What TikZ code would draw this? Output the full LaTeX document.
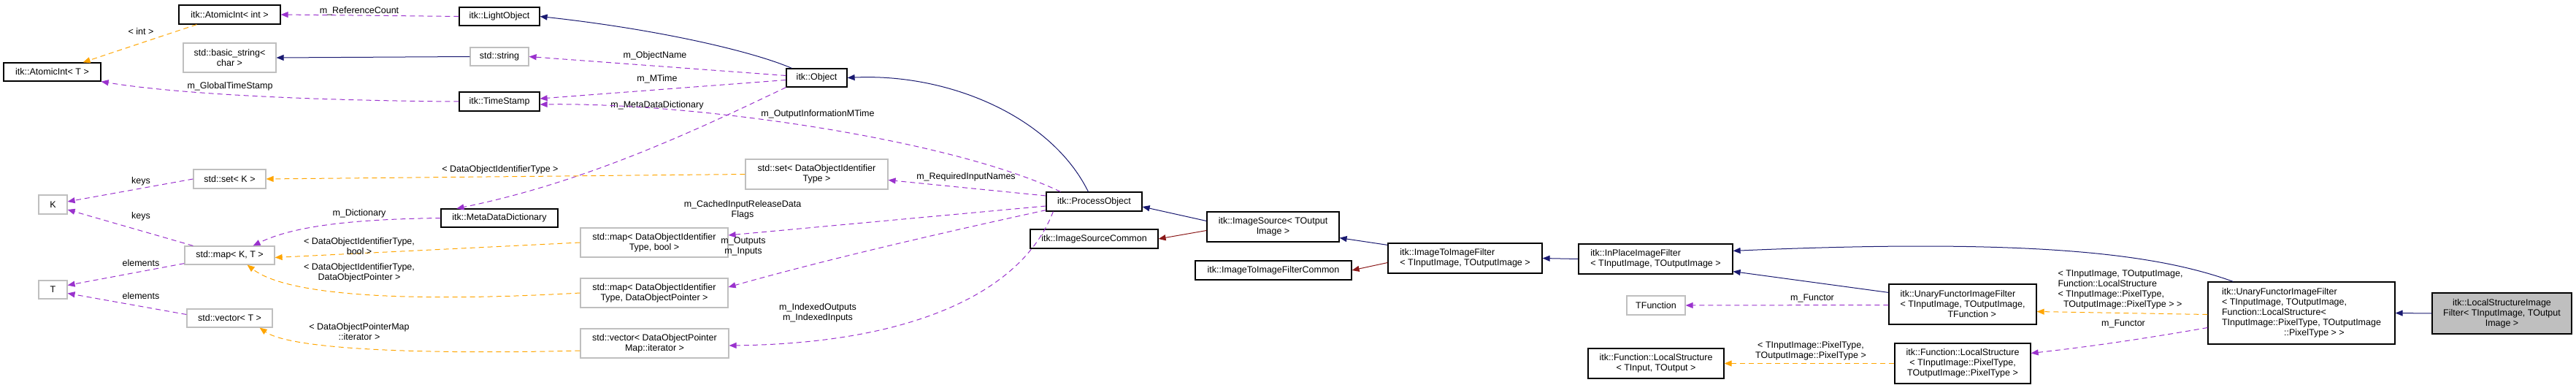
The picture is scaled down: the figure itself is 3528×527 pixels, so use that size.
\documentclass[tikz,border=0pt]{standalone}
\usepackage{fontspec}
\setmainfont{Liberation Sans}
\usetikzlibrary{arrows.meta,calc}
\definecolor{pur}{HTML}{9A32CD}
\definecolor{org}{HTML}{FFA500}
\definecolor{blu}{HTML}{191970}
\definecolor{red4}{HTML}{8B1A1A}
\definecolor{grb}{HTML}{BFBFBF}
\newcommand\mkbox[7]{\node[#7, minimum width={(#4-#2)*1pt}, minimum height={(#5-#3)*1pt}] (#1) at ({(#2+#4)/2},{(#3+#5)/2}) {#6};}
\begin{document}
\begin{tikzpicture}[x=1pt,y=-1pt,
  font=\fontsize{12.5}{14}\selectfont,
  base/.style={draw, rectangle, inner sep=0pt, fill=white},
  bk/.style={base, draw=black, line width=1.2pt, align=center},
  gr/.style={base, draw=grb, line width=1.2pt, align=center},
  bkl/.style={bk, align=left},
  lbl/.style={inner sep=0pt, align=center},
  tip/.style={-{Triangle[length=10pt,width=8pt]}},
  mem/.style={tip, draw=pur, dash pattern=on 7pt off 5pt, line width=1pt},
  tpl/.style={tip, draw=org, dash pattern=on 7pt off 5pt, line width=1pt},
  inh/.style={tip, draw=blu, line width=1pt},
  prv/.style={tip, draw=red4, line width=1pt}]
\useasboundingbox (0,0) rectangle (3528,527);
\mkbox{aint}{245}{7}{384}{33}{itk::AtomicInt< int >}{bk}
\mkbox{aT}{5}{86}{138}{111}{itk::AtomicInt< T >}{bk}
\mkbox{bstr}{251}{59}{378}{99}{std::basic\_string<\\char >}{gr}
\mkbox{K}{53}{267}{92}{293}{K}{gr}
\mkbox{T}{53}{384}{92}{409}{T}{gr}
\mkbox{setK}{265}{232}{364}{258}{std::set< K >}{gr}
\mkbox{mapKT}{253}{337}{376}{362}{std::map< K, T >}{gr}
\mkbox{vecT}{256}{423}{373}{448}{std::vector< T >}{gr}
\mkbox{light}{629}{10}{739}{35}{itk::LightObject}{bk}
\mkbox{str}{644}{65}{724}{90}{std::string}{gr}
\mkbox{ts}{629}{126}{739}{152}{itk::TimeStamp}{bk}
\mkbox{mdd}{604}{286}{764}{311}{itk::MetaDataDictionary}{bk}
\mkbox{obj}{1077}{94}{1160}{119}{itk::Object}{bk}
\mkbox{setD}{1021}{218}{1216}{259}{std::set< DataObjectIdentifier\\Type >}{gr}
\mkbox{mapB}{795}{312}{997}{352}{std::map< DataObjectIdentifier\\Type, bool >}{gr}
\mkbox{mapP}{795}{381}{997}{421}{std::map< DataObjectIdentifier\\Type, DataObjectPointer >}{gr}
\mkbox{vecP}{795}{450}{998}{490}{std::vector< DataObjectPointer\\Map::iterator >}{gr}
\mkbox{po}{1433}{263}{1564}{289}{itk::ProcessObject}{bk}
\mkbox{isc}{1411}{314}{1586}{340}{itk::ImageSourceCommon}{bk}
\mkbox{is}{1653}{290}{1834}{331}{itk::ImageSource< TOutput\\Image >}{bk}
\mkbox{iic}{1637}{357}{1851}{383}{itk::ImageToImageFilterCommon}{bk}
\mkbox{ii}{1901}{333}{2112}{374}{itk::ImageToImageFilter\\< TInputImage, TOutputImage >}{bkl}
\mkbox{ip}{2162}{334}{2373}{375}{itk::InPlaceImageFilter\\< TInputImage, TOutputImage >}{bkl}
\mkbox{tf}{2228}{405}{2308}{431}{TFunction}{gr}
\mkbox{ua}{2587}{389}{2789}{444}{itk::UnaryFunctorImageFilter\\< TInputImage, TOutputImage,\\\hspace*{5.2em}TFunction >}{bkl}
\mkbox{fa}{2175}{477}{2361}{518}{itk::Function::LocalStructure\\< TInput, TOutput >}{bk}
\mkbox{fb}{2595}{470}{2781}{525}{itk::Function::LocalStructure\\< TInputImage::PixelType,\\TOutputImage::PixelType >}{bk}
\mkbox{ub}{3024}{386}{3280}{471}{itk::UnaryFunctorImageFilter\\< TInputImage, TOutputImage,\\ Function::LocalStructure<\\ TInputImage::PixelType, TOutputImage\\\hspace*{6.8em}::PixelType > >}{bkl}
\mkbox{lsf}{3331}{401}{3522}{457}{itk::LocalStructureImage\\Filter< TInputImage, TOutput\\Image >}{bk, fill=black!25}
% edges
\draw[mem] (light.west) -- (aint.east);
\node[lbl] (l1) at (492,15) {m\_ReferenceCount};
\draw[tpl] ($(aint.south west)+(25,0)$) -- ($(aT.north east)+(-25,0)$);
\node[lbl] (l2) at (193,43) {< int >};
\draw[inh] (str.west) -- (bstr.east);
\draw[mem] (ts.west) .. controls (450,138) and (250,130) .. (aT.south east);
\node[lbl] (l3) at (315,118) {m\_GlobalTimeStamp};
\draw[inh] ($(obj.north west)+(8,0)$) .. controls (1030,70) and (900,40) .. (light.east);
\draw[mem] ($(obj.west)+(0,-3)$) -- (str.east);
\node[lbl] (l4) at (897,76) {m\_ObjectName};
\draw[mem] ($(obj.west)+(0,3)$) -- ($(ts.east)+(0,-4)$);
\node[lbl] (l5) at (900,108) {m\_MTime};
\draw[mem] (obj.south west) .. controls (950,180) and (800,250) .. ($(mdd.north west)+(22,0)$);
\node[lbl] (l6) at (900,144) {m\_MetaDataDictionary};
\draw[mem] ($(po.north west)+(20,0)$) .. controls (1300,190) and (950,140) .. ($(ts.east)+(0,4)$);
\node[lbl] (l7) at (1120,156) {m\_OutputInformationMTime};
\draw[inh] ($(po.north west)+(58,0)$) .. controls (1440,160) and (1300,100) .. (obj.east);
\draw[mem] (mdd.west) .. controls (480,300) and (400,310) .. ($(mapKT.north east)+(-30,0)$);
\node[lbl] (l8) at (492,292) {m\_Dictionary};
\draw[mem] (setK.west) -- ($(K.east)+(0,-4)$);
\node[lbl] (l9) at (193,248) {keys};
\draw[mem] ($(mapKT.north west)+(12,0)$) -- ($(K.east)+(0,7)$);
\node[lbl] (l10) at (193,296) {keys};
\draw[mem] ($(mapKT.south west)+(0,-2)$) -- ($(T.east)+(0,-6)$);
\node[lbl] (l11) at (193,360) {elements};
\draw[mem] ($(vecT.west)+(0,-5)$) -- ($(T.east)+(0,5)$);
\node[lbl] (l12) at (193,405) {elements};
\draw[tpl] (setD.west) -- (setK.east);
\node[lbl] (l13) at (685,232) {< DataObjectIdentifierType >};
\draw[tpl] (mapB.west) -- ($(mapKT.east)+(0,3)$);
\node[lbl] (l14) at (492,337) {< DataObjectIdentifierType,\\bool >};
\draw[tpl] (mapP.west) .. controls (600,412) and (400,410) .. ($(mapKT.south east)+(-38,0)$);
\node[lbl] (l15) at (492,373) {< DataObjectIdentifierType,\\DataObjectPointer >};
\draw[tpl] ($(vecP.west)+(0,10)$) .. controls (600,485) and (400,480) .. ($(vecT.south east)+(-18,0)$);
\node[lbl] (l16) at (492,454) {< DataObjectPointerMap\\::iterator >};
\draw[mem] ($(po.west)+(0,-8)$) -- ($(setD.east)+(0,8)$);
\node[lbl] (l17) at (1323,242) {m\_RequiredInputNames};
\draw[mem] ($(po.west)+(0,6)$) -- ($(mapB.east)+(0,-10)$);
\node[lbl] (l18) at (1017,287) {m\_CachedInputReleaseData\\Flags};
\draw[mem] ($(po.south west)+(0,-2)$) .. controls (1330,310) and (1150,350) .. ($(mapP.east)+(0,-8)$);
\node[lbl] (l19) at (1018,337) {m\_Outputs\\m\_Inputs};
\draw[mem] ($(po.south west)+(10,0)$) .. controls (1400,400) and (1250,470) .. ($(vecP.east)+(0,3)$);
\node[lbl] (l20) at (1120,428) {m\_IndexedOutputs\\m\_IndexedInputs};
\draw[inh] ($(is.west)+(0,-8)$) -- ($(po.east)+(0,7)$);
\draw[prv] ($(is.west)+(0,5)$) -- ($(isc.east)+(0,0)$);
\draw[inh] ($(ii.north west)+(0,3)$) -- ($(is.south east)+(0,-6)$);
\draw[prv] ($(ii.west)+(0,6)$) -- (iic.east);
\draw[inh] (ip.west) -- (ii.east);
\draw[inh] ($(ua.north west)+(0,12)$) -- ($(ip.south east)+(0,-4)$);
\draw[mem] ($(ua.west)+(0,1)$) -- (tf.east);
\node[lbl] (l21) at (2482,408) {m\_Functor};
\draw[inh] ($(ub.north west)+(35,0)$) .. controls (2960,350) and (2800,325) .. ($(ip.north east)+(0,10)$);
\draw[tpl] ($(ub.west)+(0,2)$) -- ($(ua.east)+(0,10)$);
\node[lbl, align=left] (l22) at (2904,396) {< TInputImage, TOutputImage,\\Function::LocalStructure\\< TInputImage::PixelType,\\\hspace*{0.6em}TOutputImage::PixelType > >};
\draw[mem] ($(ub.west)+(0,20)$) .. controls (2900,470) and (2830,478) .. ($(fb.east)+(0,-14)$);
\node[lbl] (l23) at (2908,443) {m\_Functor};
\draw[tpl] ($(fb.west)+(0,0)$) -- (fa.east);
\node[lbl] (l24) at (2480,480) {< TInputImage::PixelType,\\TOutputImage::PixelType >};
\draw[inh] (lsf.west) -- (ub.east);
\end{tikzpicture}
\end{document}
